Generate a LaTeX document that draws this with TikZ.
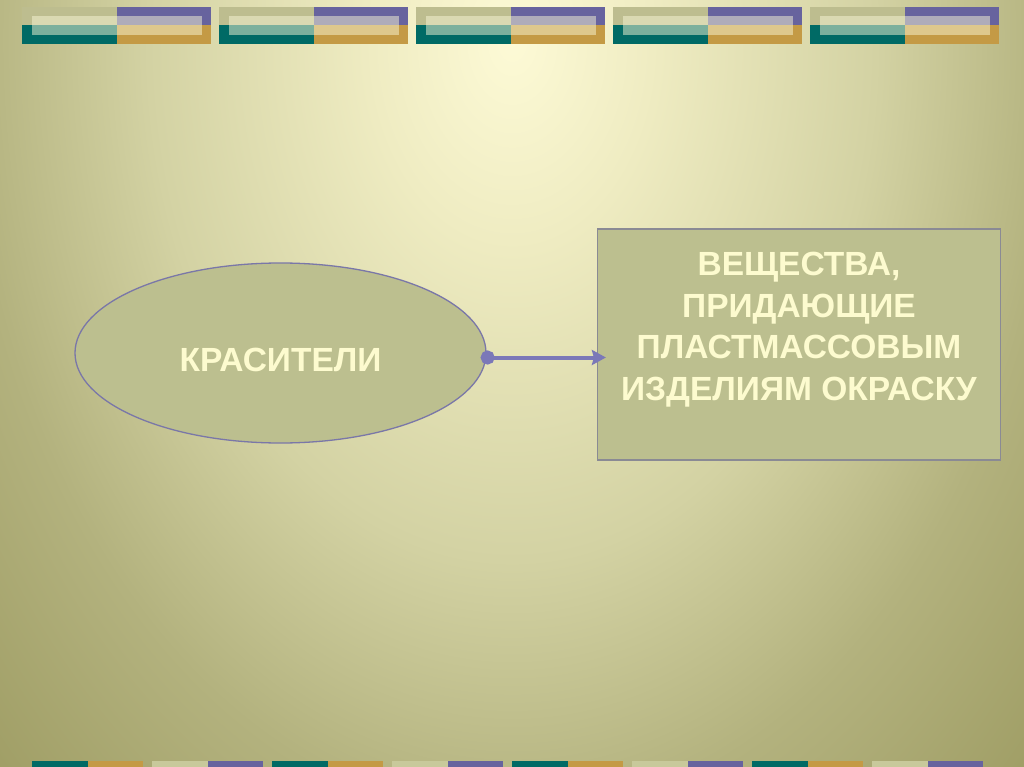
\documentclass[tikz,border=0pt]{standalone}
\usepackage{fontspec}
\setmainfont{Liberation Sans}
\usepackage{xcolor}
\definecolor{bglight}{HTML}{FDFAD6}
\definecolor{bgpale}{HTML}{EFECC2}
\definecolor{bgmid}{HTML}{D3D2A3}
\definecolor{bgolive}{HTML}{B3B27E}
\definecolor{bgdark}{HTML}{9A985E}
\definecolor{bandolive}{HTML}{BDBD8F}
\definecolor{bandpurple}{HTML}{67639E}
\definecolor{bandteal}{HTML}{006A65}
\definecolor{bandgold}{HTML}{C49A45}
\definecolor{bandcream}{HTML}{C8C99B}
\definecolor{bandlight}{HTML}{F8F6D6}
\definecolor{shapefill}{HTML}{BCBF8F}
\definecolor{shapeline}{HTML}{7A77A8}
\definecolor{boxline}{HTML}{8A8A94}
\definecolor{linkblue}{HTML}{7B78B8}
\definecolor{textcream}{HTML}{FDFBCF}
\usetikzlibrary{arrows.meta,positioning,shapes.geometric}
\pgfdeclareradialshading{slidebg}{\pgfpoint{0bp}{0bp}}{color(0bp)=(bglight); color(5bp)=(bgpale); color(13bp)=(bgmid); color(19.5bp)=(bgolive); color(28bp)=(bgdark); color(50bp)=(bgdark)}

\begin{document}
\begin{tikzpicture}[x=1pt,y=-1pt,
  label/.style={text=textcream,font=\fontsize{33.5pt}{41.7pt}\selectfont\bfseries,align=center},
  oval/.style={ellipse,draw=shapeline,line width=1.3pt,fill=shapefill,inner sep=0pt,minimum width=411pt,minimum height=180pt},
  defbox/.style={draw=boxline,line width=1.2pt,fill=shapefill,minimum width=403pt,minimum height=231pt},
  link/.style={linkblue,line width=4pt,{Circle[length=14pt]}-{Stealth[length=14pt,width=15pt,inset=2pt]}}]
  \useasboundingbox (0,0) rectangle (1024,767);
  % Background
  \begin{scope}
    \clip (0,0) rectangle (1024,767);
    \shade[shading=slidebg] (-188,-960) rectangle (1212,1040);
  \end{scope}
  % Top band
  \foreach \i in {0,...,4}{
    \begin{scope}[xshift=197*\i]
      \fill[bandolive] (22,7) rectangle (116.5,25.5);
      \fill[bandpurple] (116.5,7) rectangle (211,25.5);
      \fill[bandteal] (22,25.5) rectangle (116.5,44);
      \fill[bandgold] (116.5,25.5) rectangle (211,44);
      \fill[bandlight,opacity=0.5] (31.5,16) rectangle (201.5,35);
    \end{scope}
  }
  % Bottom band
  \foreach \x in {32,272,512,752}{
    \fill[bandteal] (\x,761) rectangle ++(55.5,6);
    \fill[bandgold] (\x+55.5,761) rectangle ++(55.5,6);
    \fill[bandcream] (\x+120,761) rectangle ++(55.5,6);
    \fill[bandpurple] (\x+175.5,761) rectangle ++(55.5,6);
  }
  \node[oval,label,text height=36pt,text depth=0pt] (dyes) at (280.5,353) {КРАСИТЕЛИ};
  \node[defbox] (defn) at (799,344.5) {};
  \node[label] (defntext) at ([yshift=15pt]defn.center) {ВЕЩЕСТВА,\\ПРИДАЮЩИЕ\\ПЛАСТМАССОВЫМ\\ИЗДЕЛИЯМ ОКРАСКУ};
  \draw[link] ([xshift=-6pt,yshift=-4.5pt]dyes.east) -- ([xshift=9pt,yshift=-13pt]defn.west);
\end{tikzpicture}
\end{document}
